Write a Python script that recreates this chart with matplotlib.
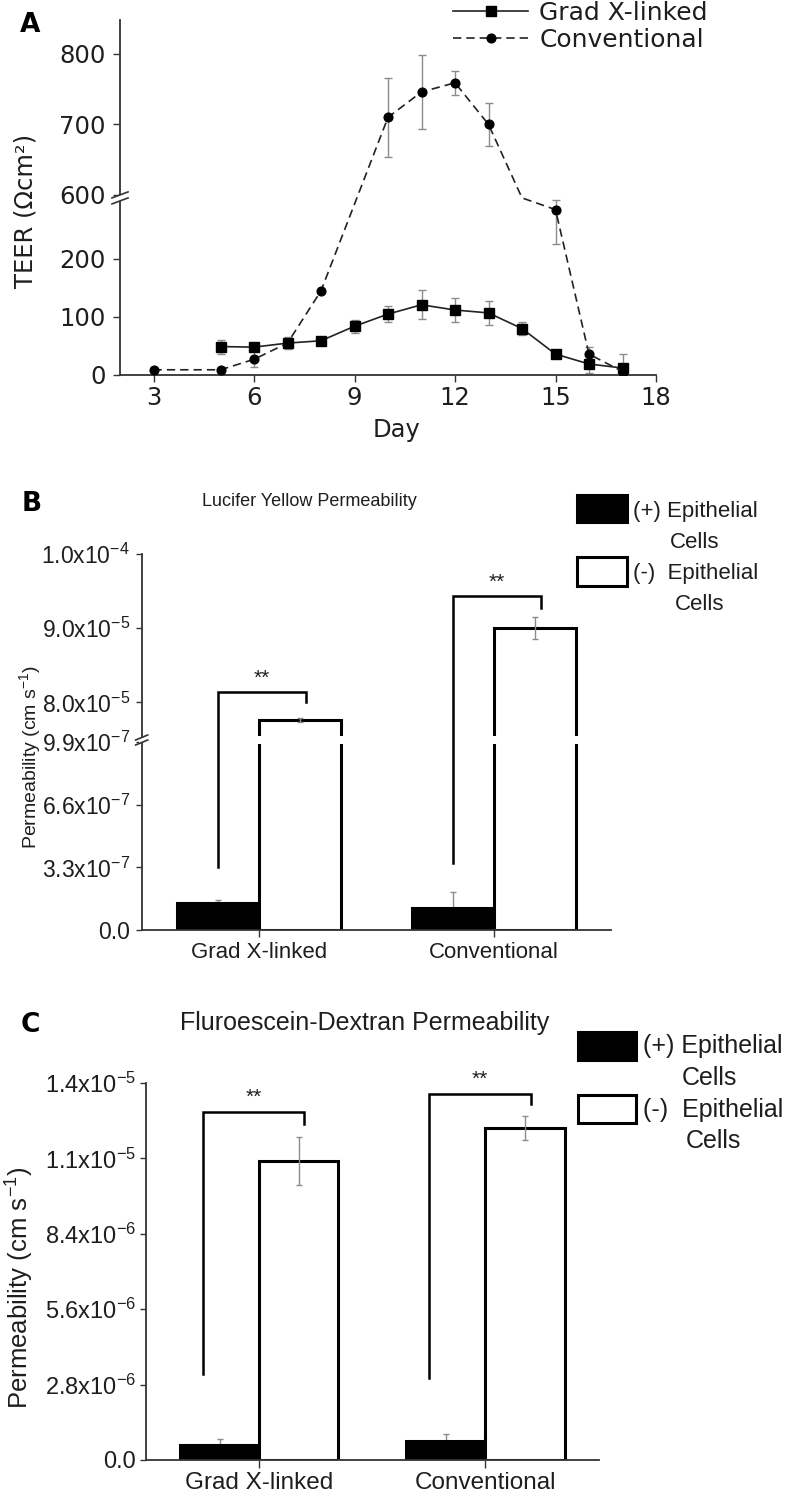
import numpy as np
import matplotlib
matplotlib.use("Agg")
import matplotlib.pyplot as plt
from matplotlib.transforms import Affine2D
from matplotlib.patches import Rectangle
from matplotlib.lines import Line2D

# ---------------- data ----------------
# Panel A: TEER over days
days_grad = [5, 6, 7, 8, 9, 10, 11, 12, 13, 14, 15, 16, 17]
teer_grad = [49, 48, 55, 59, 84, 105, 121, 112, 107, 80, 36, 19, 12]
teer_grad_err = [12, 5, 11, 3, 11, 14, 25, 20, 21, 11, 4, 15, 25]

days_conv = [3, 5, 6, 7, 8, 10, 11, 12, 13, 14, 15, 16, 17]
teer_conv = [9, 9, 27, 55, 145, 710, 746, 759, 700, 450, 285, 36, 6]
teer_conv_err = [0, 0, 14, 8, 0, 56, 53, 17, 31, 0, 60, 13, 0]

series_names = ["Grad X-linked", "Conventional"]
teer_xticks = [3, 6, 9, 12, 15, 18]
teer_yticks = [0, 100, 200, 600, 700, 800]

# Panel B: Lucifer Yellow permeability
groups = ["Grad X-linked", "Conventional"]
cond_names = ["(+) Epithelial", "(-)  Epithelial"]
ly_pos = [1.44e-7, 1.15e-7]
ly_pos_err = [0.14e-7, 0.84e-7]
ly_neg = [7.76e-5, 9.0e-5]
ly_neg_err = [0.03e-5, 0.15e-5]
ly_sig_base = [3.34e-7, 3.52e-7]
ly_sig_top = [8.135e-5, 9.43e-5]
ly_sig_end = [8.0e-5, 9.27e-5]
ly_yticks = [0, 3.3e-7, 6.6e-7, 9.9e-7, 8.0e-5, 9.0e-5, 1.0e-4]
ly_ytick_labels = ["0.0", "3.3x10$^{-7}$", "6.6x10$^{-7}$", "9.9x10$^{-7}$",
                   "8.0x10$^{-5}$", "9.0x10$^{-5}$", "1.0x10$^{-4}$"]

# Panel C: Fluorescein-Dextran permeability
fd_pos = [5.6e-7, 7.0e-7]
fd_pos_err = [2.1e-7, 2.6e-7]
fd_neg = [1.11e-5, 1.234e-5]
fd_neg_err = [8.8e-7, 4.5e-7]
fd_sig_base = [3.18e-6, 3.05e-6]
fd_sig_top = [1.292e-5, 1.36e-5]
fd_sig_end = [1.249e-5, 1.323e-5]
fd_yticks = [0, 2.8e-6, 5.6e-6, 8.4e-6, 1.12e-5, 1.4e-5]
fd_ytick_labels = ["0.0", "2.8x10$^{-6}$", "5.6x10$^{-6}$", "8.4x10$^{-6}$",
                   "1.1x10$^{-5}$", "1.4x10$^{-5}$"]

# ---------------- style ----------------
W, H = 787, 1494
plt.rcParams.update({
    "font.family": ["Liberation Sans", "DejaVu Sans"],
    "mathtext.fontset": "custom",
    "mathtext.rm": "Liberation Sans",
    "mathtext.it": "Liberation Sans:italic",
    "mathtext.bf": "Liberation Sans:bold",
    "mathtext.sf": "Liberation Sans",
    "mathtext.default": "regular",
})
SPINE = "#333333"
TXT = "#1e1e1e"
ERR = "#8c8c8c"

fig = plt.figure(figsize=(W / 100, H / 100), dpi=100)
PIX = Affine2D().scale(1 / W, -1 / H).translate(0, 1) + fig.transFigure


def axes_px(l, t, r, b):
    return fig.add_axes([l / W, 1 - b / H, (r - l) / W, (b - t) / H])


def break_scale(ax, lo_top, up_bot, k_lo, k_up, gap, far):
    xp = np.array([-far, 0.0, lo_top, up_bot, far])
    fp = np.array([-far * k_lo, 0.0, lo_top * k_lo, lo_top * k_lo + gap,
                   lo_top * k_lo + gap + (far - up_bot) * k_up])
    fwd = lambda v: np.interp(v, xp, fp)
    inv = lambda v: np.interp(v, fp, xp)
    ax.set_yscale("function", functions=(fwd, inv))
    return fwd, inv


def style_axes(ax):
    for s in ("top", "right"):
        ax.spines[s].set_visible(False)
    for s in ("left", "bottom"):
        ax.spines[s].set_color(SPINE)
        ax.spines[s].set_linewidth(1.3)


def px_of(ax, x, y):
    dx, dy = ax.transData.transform((x, y))
    return dx, H - dy


def draw_axis_break(ax, y_lo, y_hi, half_w, slope_h, sep):
    x0, ya = px_of(ax, ax.get_xlim()[0], y_lo)
    _, yb = px_of(ax, ax.get_xlim()[0], y_hi)
    yc = (ya + yb) / 2
    fig.add_artist(Rectangle((x0 - 3, yc - sep / 2), 6, sep, transform=PIX,
                             fc="white", ec="none", zorder=10))
    for off in (-sep / 2, sep / 2):
        fig.add_artist(Line2D([x0 - half_w, x0 + half_w],
                              [yc + off + slope_h / 2, yc + off - slope_h / 2],
                              transform=PIX, color=SPINE, lw=1.2, zorder=11))
    return yc


def ftext(x, y, s, **kw):
    kw.setdefault("color", TXT)
    fig.text(x, y, s, transform=PIX, **kw)


# ================= Panel A =================
axA = axes_px(120, 20, 656, 375)
style_axes(axA)
fwdA, invA = break_scale(axA, 300, 600, 0.58, 0.705, 6, 5000)
axA.set_xlim(2, 18)
axA.set_ylim(0, 848)
axA.set_xticks(teer_xticks)
axA.set_yticks(teer_yticks)
axA.tick_params(direction="out", length=4.7, width=1, color=SPINE,
                labelsize=17.5, labelcolor=TXT, labelfontfamily="DejaVu Sans")
axA.tick_params(axis="y", pad=5.5)
axA.tick_params(axis="x", pad=3)

g_err_idx = [i for i, e in enumerate(teer_grad_err) if e > 0]
c_err_idx = [i for i, e in enumerate(teer_conv_err) if e > 0]
axA.errorbar([days_grad[i] for i in g_err_idx], [teer_grad[i] for i in g_err_idx],
             yerr=[teer_grad_err[i] for i in g_err_idx], fmt="none", ecolor=ERR,
             elinewidth=1, capsize=3, capthick=1, zorder=2)
axA.errorbar([days_conv[i] for i in c_err_idx], [teer_conv[i] for i in c_err_idx],
             yerr=[teer_conv_err[i] for i in c_err_idx], fmt="none", ecolor=ERR,
             elinewidth=1, capsize=3, capthick=1, zorder=2)

axA.plot(days_grad, teer_grad, color="#222222", lw=1.2, marker="s", ms=6.7,
         mfc="black", mec="black", zorder=3)
visible = [i for i, v in enumerate(teer_conv) if not (300 < v < 600)]
axA.plot(days_conv, teer_conv, color="#222222", lw=1.2, ls=(0, (5, 3)),
         marker="o", ms=6.3, mfc="black", mec="black", markevery=visible, zorder=3)

hA = [Line2D([], [], color="#222222", lw=1.2, marker="s", ms=6.7, mfc="black", mec="black"),
      Line2D([], [], color="#222222", lw=1.2, ls=(0, (5, 3)), marker="o", ms=6.3,
             mfc="black", mec="black")]
axA.legend(hA, series_names, loc="upper left", bbox_to_anchor=(453 / W, 1 - 1 / H),
           bbox_transform=fig.transFigure, frameon=False, borderpad=0, borderaxespad=0,
           handlelength=3.0, handletextpad=0.45, labelspacing=0.12,
           prop={"family": "DejaVu Sans", "size": 18}, labelcolor=TXT)

draw_axis_break(axA, 300, 600, 8, 6, 6)

ftext(20, 31.7, "A", fontsize=19, fontweight="bold", family="DejaVu Sans",
      ha="left", va="baseline", color="black")
ftext(26, 211, "TEER (Ωcm²)", fontsize=17.5, family="DejaVu Sans", rotation=90,
      ha="center", va="center")
ftext(397, 437, "Day", fontsize=17.5, family="DejaVu Sans", ha="center", va="baseline")

# ================= bar panel helper =================
BW = 0.35


def bar_panel(ax, pos, pos_err, neg, neg_err, base, top, end, left_off, lw_edge):
    x = np.arange(len(groups))
    ax.bar(x - BW / 2, pos, BW, color="black", edgecolor="black", lw=lw_edge, zorder=2)
    ax.bar(x + BW / 2, neg, BW, color="white", edgecolor="black", lw=lw_edge, zorder=2)
    ax.errorbar(x - BW / 2, pos, yerr=pos_err, fmt="none", ecolor=ERR, elinewidth=1,
                capsize=2.5, capthick=1, zorder=1.5)
    ax.errorbar(x + BW / 2, neg, yerr=neg_err, fmt="none", ecolor=ERR, elinewidth=1,
                capsize=2.5, capthick=1, zorder=3)
    for i in range(len(groups)):
        xl = x[i] + left_off
        xr = x[i] + 0.2
        ax.plot([xl, xl, xr, xr], [base[i], top[i], top[i], end[i]], color="black",
                lw=1.8, solid_joinstyle="miter", zorder=4, clip_on=False)
        ax.annotate("**", ((xl + xr) / 2, top[i]), xytext=(0, 3.5),
                    textcoords="offset points", ha="center", va="bottom",
                    fontsize=15, color=TXT)
    ax.set_xlim(-0.5, 1.5)
    ax.set_xticks(x)
    ax.set_xticklabels(groups)


def bar_legend(rx0, rx1, rows, tx, cell_dx, size, lw):
    # rows: list of (rect_top, rect_bottom, baseline_label, baseline_cells)
    fills = ["black", "white"]
    for (rt, rb, bl, bc), fc, name, cdx in zip(rows, fills, cond_names, cell_dx):
        fig.add_artist(Rectangle((rx0, rt), rx1 - rx0, rb - rt, transform=PIX,
                                 fc=fc, ec="black", lw=lw))
        ftext(tx, bl, name, fontsize=size, ha="left", va="baseline")
        ftext(tx + cdx, bc, "Cells", fontsize=size, ha="left", va="baseline")


# ================= Panel B =================
axB = axes_px(141.7, 554, 611, 930)
style_axes(axB)
fwdB, invB = break_scale(axB, 9.9e-7, 7.52e-5, 62.5 / 3.3e-7, 74 / 1e-5, 4, 1.0)
axB.set_ylim(0, 1e-4)
bar_panel(axB, ly_pos, ly_pos_err, ly_neg, ly_neg_err, ly_sig_base, ly_sig_top,
          ly_sig_end, -BW / 2, 2.2)
axB.set_yticks(ly_yticks)
axB.set_yticklabels(ly_ytick_labels)
axB.tick_params(direction="out", width=1, color=SPINE, labelcolor=TXT)
axB.tick_params(axis="y", length=4.1, pad=4.3, labelsize=16.5)
axB.tick_params(axis="x", length=5.3, pad=3.2, labelsize=16)

# gap in the white bars at the axis break
mid = (fwdB(9.9e-7) + fwdB(7.52e-5)) / 2
b_lo, b_hi = invB(mid - 3.5), invB(mid + 3.5)
for i in range(len(groups)):
    axB.add_patch(Rectangle((i - 0.02, b_lo), BW + 0.04, b_hi - b_lo, fc="white",
                            ec="none", zorder=3.5))
draw_axis_break(axB, 9.9e-7, 7.52e-5, 6, 5, 5)

ftext(22, 511, "B", fontsize=19, fontweight="bold", family="DejaVu Sans",
      ha="left", va="baseline", color="black")
ftext(201.7, 505.7, "Lucifer Yellow Permeability", fontsize=13, ha="left", va="baseline")
ftext(30, 757, "Permeability (cm s$^{-1}$)", fontsize=14, rotation=90,
      ha="center", va="center")
bar_legend(576.7, 626.7, [(495, 521.7, 517.3, 548.3), (556.7, 585.7, 579.3, 610)],
           633, [37, 42], 16, 2.2)

# ================= Panel C =================
axC = axes_px(146, 1083, 598.5, 1460)
style_axes(axC)
axC.set_ylim(0, 1.4e-5)
bar_panel(axC, fd_pos, fd_pos_err, fd_neg, fd_neg_err, fd_sig_base, fd_sig_top,
          fd_sig_end, -0.25, 2.2)
axC.set_yticks(fd_yticks)
axC.set_yticklabels(fd_ytick_labels)
axC.tick_params(direction="out", width=1, color=SPINE, labelcolor=TXT)
axC.tick_params(axis="y", length=4.3, pad=3, labelsize=17)
axC.tick_params(axis="x", length=5.5, pad=3, labelsize=17.5)

ftext(21, 1031.7, "C", fontsize=19, fontweight="bold", family="DejaVu Sans",
      ha="left", va="baseline", color="black")
ftext(180, 1030, "Fluroescein-Dextran Permeability", fontsize=18, ha="left", va="baseline")
ftext(20, 1288, "Permeability (cm s$^{-1}$)", fontsize=18.5, rotation=90,
      ha="center", va="center")
bar_legend(578, 635.5, [(1031.7, 1060, 1053.3, 1085), (1095, 1123.3, 1116.7, 1148.3)],
           643, [39, 43], 18, 2.2)

fig.savefig("out.png", dpi=100)
